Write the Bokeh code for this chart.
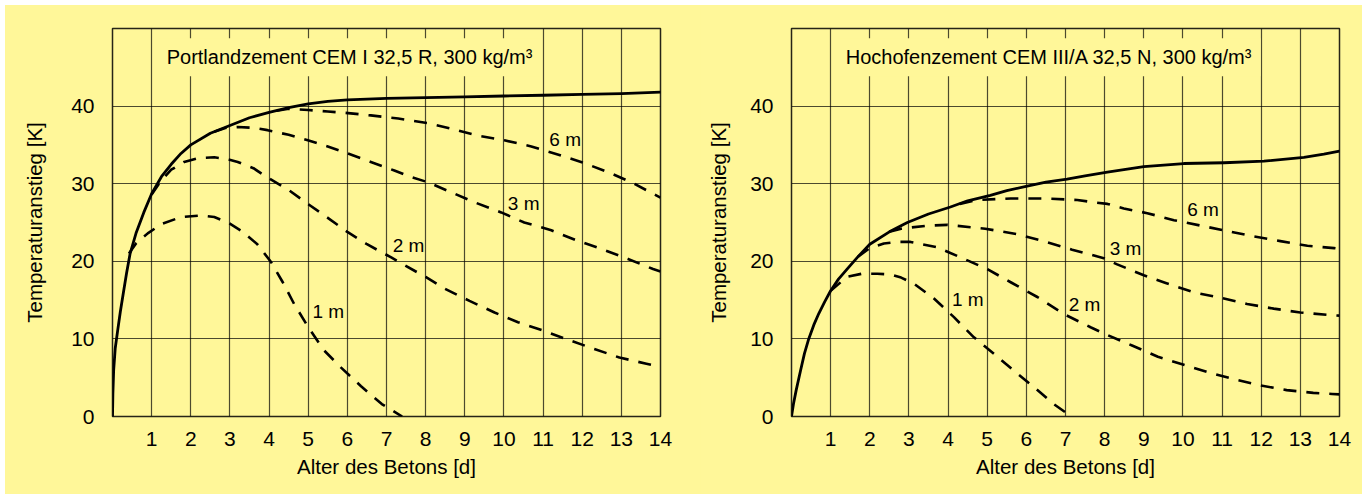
from bokeh.plotting import figure
from bokeh.layouts import row, column
from bokeh.models import Range1d, FixedTicker, Label, Spacer
from bokeh.embed import file_html
from bokeh.resources import INLINE

BG = "#FFF799"
FONT = "Liberation Sans"

# ---------------- data ----------------
ticks_x = list(range(1, 15))
ticks_y = [0, 10, 20, 30, 40]
x_label = "Alter des Betons [d]"
y_label = "Temperaturanstieg [K]"

# Left panel: Portlandzement
pz_title = "Portlandzement CEM I 32,5 R, 300 kg/m³"
pz_adiab_x = [0, 0.01, 0.03, 0.07, 0.13, 0.2, 0.28, 0.36, 0.45, 0.6, 0.8, 1.0, 1.25, 1.5, 1.75, 2.0, 2.5, 3.0, 3.5, 4.0, 4.5, 5.0, 5.5, 6.0, 7.0, 8.0, 9.0, 10.0, 11.0, 12.0, 13.0, 14.0]
pz_adiab_y = [0, 3, 6, 8.8, 11, 13.5, 16, 18.5, 21, 23.6, 26.3, 28.7, 30.9, 32.5, 33.9, 35.0, 36.5, 37.5, 38.5, 39.2, 39.8, 40.3, 40.6, 40.8, 41.0, 41.1, 41.2, 41.3, 41.4, 41.5, 41.6, 41.8]
pz_1m_x = [0.42, 0.6, 0.9, 1.25, 1.75, 2.25, 2.6, 2.95, 3.3, 3.7, 4.05, 4.35, 4.64, 4.99, 5.39, 5.84, 6.35, 6.88, 7.4]
pz_1m_y = [21.0, 22.3, 23.6, 24.8, 25.7, 25.9, 25.7, 25.0, 23.9, 22.2, 19.9, 17.3, 14.5, 11.6, 8.6, 6.3, 3.9, 1.6, 0]
pz_2m_x = [1.0, 1.23, 1.5, 1.83, 2.2, 2.6, 2.9, 3.2, 3.6, 3.96, 4.5, 4.99, 5.5, 6.01, 6.5, 7.12, 7.46, 8.01, 8.48, 9.12, 9.76, 10.36, 10.99, 11.63, 12.31, 12.95, 13.64, 14.0]
pz_2m_y = [28.6, 30.3, 31.8, 32.8, 33.3, 33.4, 33.2, 32.8, 32.0, 30.8, 29.2, 27.4, 25.6, 23.75, 22.2, 20.5, 19.5, 17.95, 16.5, 14.9, 13.4, 12.15, 11.1, 9.9, 8.7, 7.6, 6.8, 6.4]
pz_3m_x = [2.6, 2.9, 3.2, 3.6, 3.96, 4.5, 4.99, 5.5, 6.01, 6.6, 7.2, 7.6, 8.05, 8.65, 9.25, 9.93, 10.52, 11.21, 11.85, 12.49, 13.17, 13.81, 14.0]
pz_3m_y = [36.7, 37.2, 37.3, 37.2, 36.9, 36.3, 35.6, 34.8, 33.9, 32.8, 31.7, 30.9, 30.2, 28.9, 27.6, 26.3, 25.0, 24.0, 22.7, 21.6, 20.3, 19.0, 18.7]
pz_6m_x = [4.2, 4.5, 5.0, 5.5, 6.02, 6.6, 7.3, 8.05, 8.65, 9.33, 10.01, 10.7, 11.29, 11.97, 12.66, 13.25, 13.89, 14.0]
pz_6m_y = [39.4, 39.65, 39.5, 39.3, 39.1, 38.8, 38.4, 37.8, 37.1, 36.2, 35.6, 34.8, 33.9, 32.8, 31.5, 30.2, 28.5, 28.2]
pz_label_text = ["1 m", "2 m", "3 m", "6 m"]
pz_label_x = [5.11, 7.16, 10.1, 11.16]
pz_label_y = [13.5, 22.0, 27.5, 35.7]

# Right panel: Hochofenzement
hz_title = "Hochofenzement CEM III/A 32,5 N, 300 kg/m³"
hz_adiab_x = [0, 0.05, 0.12, 0.23, 0.33, 0.44, 0.57, 0.7, 0.85, 1.0, 1.2, 1.42, 1.7, 2.0, 2.5, 2.96, 3.5, 4.06, 4.5, 5.08, 5.5, 6.02, 6.5, 7.04, 7.5, 8.07, 9.0, 10.02, 11.05, 12.07, 13.09, 13.6, 14.0]
hz_adiab_y = [0, 1.6, 3.4, 5.9, 8.1, 10.0, 11.8, 13.3, 14.8, 16.2, 17.7, 19.0, 20.6, 22.2, 23.8, 25.0, 26.1, 27.0, 27.8, 28.5, 29.1, 29.7, 30.2, 30.6, 31.0, 31.5, 32.2, 32.6, 32.7, 32.9, 33.4, 33.8, 34.2]
hz_1m_x = [1.0, 1.42, 1.8, 2.19, 2.53, 2.8, 3.13, 3.64, 4.15, 4.66, 5.17, 5.68, 6.19, 6.7, 7.15]
hz_1m_y = [16.2, 18.0, 18.4, 18.4, 18.3, 17.9, 17.1, 15.2, 12.8, 10.2, 8.1, 5.9, 3.8, 1.6, 0]
hz_2m_x = [1.7, 2.0, 2.36, 2.7, 3.04, 3.72, 4.32, 5.0, 5.6, 6.28, 6.96, 7.64, 8.07, 8.7, 9.36, 10.0, 10.64, 11.32, 11.98, 12.65, 13.33, 13.81, 14.0]
hz_2m_y = [20.6, 21.7, 22.3, 22.5, 22.5, 21.8, 20.5, 19.0, 17.3, 15.4, 13.2, 11.5, 10.5, 9.15, 7.7, 6.7, 5.7, 4.8, 4.0, 3.4, 3.05, 2.9, 2.85]
hz_3m_x = [2.5, 2.8, 3.04, 3.5, 3.98, 4.95, 5.81, 6.5, 7.17, 7.98, 8.32, 9.0, 9.56, 10.28, 10.96, 11.64, 12.32, 13.0, 13.69, 14.0]
hz_3m_y = [23.8, 24.2, 24.35, 24.6, 24.7, 24.2, 23.45, 22.5, 21.5, 20.4, 19.6, 18.2, 17.2, 16.0, 15.3, 14.5, 13.9, 13.4, 13.1, 13.0]
hz_6m_x = [4.3, 4.74, 5.6, 6.45, 7.3, 7.72, 8.07, 8.49, 9.09, 9.77, 10.45, 11.13, 11.81, 12.49, 13.18, 13.86, 14.0]
hz_6m_y = [27.4, 27.9, 28.1, 28.1, 27.9, 27.6, 27.4, 26.8, 26.2, 25.3, 24.6, 23.9, 23.2, 22.6, 22.0, 21.7, 21.6]
hz_label_text = ["1 m", "2 m", "3 m", "6 m"]
hz_label_x = [4.1, 7.08, 8.13, 10.11]
hz_label_y = [15.1, 14.4, 21.6, 26.7]


def make_panel(title, adiab, dashed, lab_text, lab_x, lab_y,
               border_left, border_right, axis_label_standoff):
    p = figure(frame_width=548, frame_height=388,
               min_border_left=border_left, min_border_right=border_right,
               min_border_top=23, min_border_bottom=78,
               x_range=Range1d(0, 14), y_range=Range1d(0, 50),
               output_backend="svg", toolbar_location=None)
    p.background_fill_color = BG
    p.border_fill_color = BG
    p.outline_line_color = "black"
    p.outline_line_width = 1.5
    p.outline_line_alpha = 0.85

    p.xaxis.ticker = FixedTicker(ticks=ticks_x)
    p.yaxis.ticker = FixedTicker(ticks=ticks_y)
    for ax in (p.xaxis[0], p.yaxis[0]):
        ax.axis_line_color = None
        ax.major_tick_line_color = None
        ax.minor_tick_line_color = None
        ax.major_label_text_font = FONT
        ax.major_label_text_font_size = "21px"
        ax.major_label_text_color = "black"
        ax.axis_label_text_font = FONT
        ax.axis_label_text_font_size = "20.5px"
        ax.axis_label_text_font_style = "normal"
        ax.axis_label_text_color = "black"
    p.xaxis.axis_label = x_label
    p.yaxis.axis_label = y_label
    p.xaxis.major_label_standoff = 9
    p.xaxis.axis_label_standoff = 6
    p.yaxis.major_label_standoff = 12
    p.yaxis.axis_label_standoff = axis_label_standoff

    for g in (p.xgrid[0], p.ygrid[0]):
        g.grid_line_color = "black"
        g.grid_line_alpha = 0.7
        g.grid_line_width = 1.2
    p.xgrid.ticker = FixedTicker(ticks=ticks_x)
    p.ygrid.ticker = FixedTicker(ticks=ticks_y)

    for xs, ys in dashed:
        p.line(xs, ys, line_color="black", line_width=2.6,
               line_dash="13 10", line_join="round")
    p.line(adiab[0], adiab[1], line_color="black", line_width=2.8,
           line_join="round", line_cap="round")

    p.add_layout(Label(x=1.18, y=46.3, text=title, text_font=FONT,
                       text_font_size="20px", text_baseline="middle",
                       text_align="left", text_color="black",
                       background_fill_color=BG, padding=8))
    for t, lx, ly in zip(lab_text, lab_x, lab_y):
        p.add_layout(Label(x=lx, y=ly, text=t, text_font=FONT,
                           text_font_size="19px", text_baseline="middle",
                           text_align="left", text_color="black"))
    return p


p1 = make_panel(pz_title, (pz_adiab_x, pz_adiab_y),
                [(pz_1m_x, pz_1m_y), (pz_2m_x, pz_2m_y), (pz_3m_x, pz_3m_y), (pz_6m_x, pz_6m_y)],
                pz_label_text, pz_label_x, pz_label_y, 107, 40, 22)
p2 = make_panel(hz_title, (hz_adiab_x, hz_adiab_y),
                [(hz_1m_x, hz_1m_y), (hz_2m_x, hz_2m_y), (hz_3m_x, hz_3m_y), (hz_6m_x, hz_6m_y)],
                hz_label_text, hz_label_x, hz_label_y, 91, 23, 17)

inner = row(p1, p2, spacing=0)
inner.styles = {"background-color": BG}
layout = column(Spacer(height=5),
                row(Spacer(width=5), inner, spacing=0),
                spacing=0)
open("out.html", "w").write(file_html(layout, INLINE))
